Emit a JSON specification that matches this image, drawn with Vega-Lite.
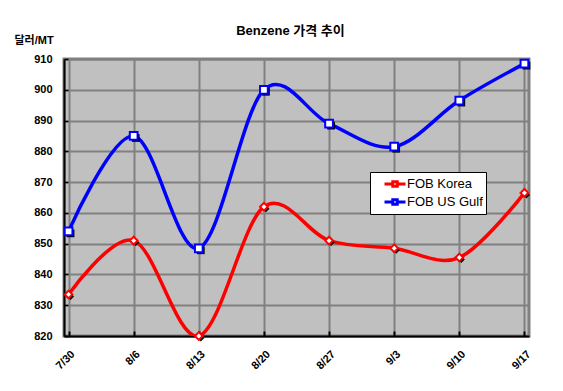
{
  "$schema": "https://vega.github.io/schema/vega-lite/v6.json",
  "width": 465,
  "height": 277,
  "autosize": {"type": "none"},
  "padding": {"left": 64, "top": 59, "right": 34, "bottom": 55},
  "background": "white",
  "title": {
    "text": "Benzene 가격 추이",
    "font": "Liberation Sans, Noto Sans CJK KR",
    "fontSize": 13,
    "fontWeight": "bold",
    "color": "black",
    "anchor": "middle",
    "dx": -6,
    "offset": -4
  },
  "data": {
    "values": [
      {"date": "7/30", "series": "FOB Korea", "price": 833.5},
      {"date": "8/6", "series": "FOB Korea", "price": 851},
      {"date": "8/13", "series": "FOB Korea", "price": 820},
      {"date": "8/20", "series": "FOB Korea", "price": 862},
      {"date": "8/27", "series": "FOB Korea", "price": 851},
      {"date": "9/3", "series": "FOB Korea", "price": 848.5},
      {"date": "9/10", "series": "FOB Korea", "price": 845.5},
      {"date": "9/17", "series": "FOB Korea", "price": 866.5},
      {"date": "7/30", "series": "FOB US Gulf", "price": 854},
      {"date": "8/6", "series": "FOB US Gulf", "price": 885},
      {"date": "8/13", "series": "FOB US Gulf", "price": 848.5},
      {"date": "8/20", "series": "FOB US Gulf", "price": 900},
      {"date": "8/27", "series": "FOB US Gulf", "price": 889},
      {"date": "9/3", "series": "FOB US Gulf", "price": 881.5},
      {"date": "9/10", "series": "FOB US Gulf", "price": 896.5},
      {"date": "9/17", "series": "FOB US Gulf", "price": 908.5}
    ]
  },
  "encoding": {
    "x": {
      "field": "date",
      "type": "ordinal",
      "sort": null,
      "scale": {"type": "point", "padding": 0.07},
      "axis": {
        "title": null,
        "labelAngle": -45,
        "labelFont": "Liberation Sans",
        "labelFontSize": 11,
        "labelFontWeight": "bold",
        "labelColor": "black",
        "labelPadding": 17,
        "domainColor": "black",
        "domainWidth": 2,
        "tickColor": "black",
        "tickSize": -5,
        "tickWidth": 2,
        "grid": true,
        "gridColor": "#808080",
        "gridWidth": 2
      }
    },
    "y": {
      "field": "price",
      "type": "quantitative",
      "scale": {"domain": [820, 910], "nice": false, "zero": false},
      "axis": {
        "title": "달러/MT",
        "titleAngle": 0,
        "titleAlign": "left",
        "titleBaseline": "middle",
        "titleX": -50,
        "titleY": -19,
        "titleFont": "Liberation Sans, Noto Sans CJK KR",
        "titleFontSize": 11,
        "titleFontWeight": "bold",
        "titleColor": "black",
        "values": [820, 830, 840, 850, 860, 870, 880, 890, 900, 910],
        "labelFont": "Liberation Sans",
        "labelFontSize": 11,
        "labelFontWeight": "bold",
        "labelColor": "black",
        "labelPadding": 16,
        "domainColor": "black",
        "domainWidth": 2,
        "tickColor": "black",
        "tickSize": -4,
        "tickWidth": 1.5,
        "grid": true,
        "gridColor": "#808080",
        "gridWidth": 2
      }
    }
  },
  "layer": [
    {
      "mark": {"type": "line", "interpolate": "cardinal", "tension": 0, "strokeWidth": 3.5, "clip": true},
      "encoding": {
        "stroke": {
          "field": "series",
          "type": "nominal",
          "scale": {"domain": ["FOB Korea", "FOB US Gulf"], "range": ["#FF0000", "#0000FF"]},
          "legend": {
            "title": null,
            "orient": "none",
            "legendX": 306,
            "legendY": 113,
            "fillColor": "white",
            "strokeColor": "black",
            "padding": 3,
            "rowPadding": 0,
            "labelFont": "Liberation Sans",
            "labelFontSize": 13,
            "labelColor": "black",
            "labelOffset": 3,
            "symbolOffset": 13,
            "symbolType": "M-1.4,0H-0.3M0.3,0H1.4M-0.3,-0.3H0.3V0.3H-0.3Z",
            "symbolSize": 225,
            "symbolFillColor": "white",
            "symbolStrokeWidth": 3
          }
        }
      }
    },
    {
      "transform": [{"filter": "datum.series === 'FOB Korea'"}],
      "mark": {"type": "point", "shape": "diamond", "fill": "black", "filled": true, "opacity": 1, "size": 50, "clip": false},
      "encoding": {
        "xOffset": {"value": 2},
        "yOffset": {"value": 2}
      }
    },
    {
      "transform": [{"filter": "datum.series === 'FOB US Gulf'"}],
      "mark": {"type": "point", "shape": "square", "fill": "black", "filled": true, "opacity": 1, "size": 60, "clip": false},
      "encoding": {
        "xOffset": {"value": 2},
        "yOffset": {"value": 2}
      }
    },
    {
      "transform": [{"filter": "datum.series === 'FOB Korea'"}],
      "mark": {"type": "point", "shape": "diamond", "fill": "white", "filled": false, "opacity": 1, "strokeWidth": 2, "size": 60, "clip": false},
      "encoding": {
        "stroke": {"field": "series", "type": "nominal", "legend": null}
      }
    },
    {
      "transform": [{"filter": "datum.series === 'FOB US Gulf'"}],
      "mark": {"type": "point", "shape": "square", "fill": "white", "filled": false, "opacity": 1, "strokeWidth": 2, "size": 60, "clip": false},
      "encoding": {
        "stroke": {"field": "series", "type": "nominal", "legend": null}
      }
    }
  ],
  "config": {
    "view": {"fill": "#C0C0C0", "stroke": "#808080", "strokeWidth": 3}
  }
}
